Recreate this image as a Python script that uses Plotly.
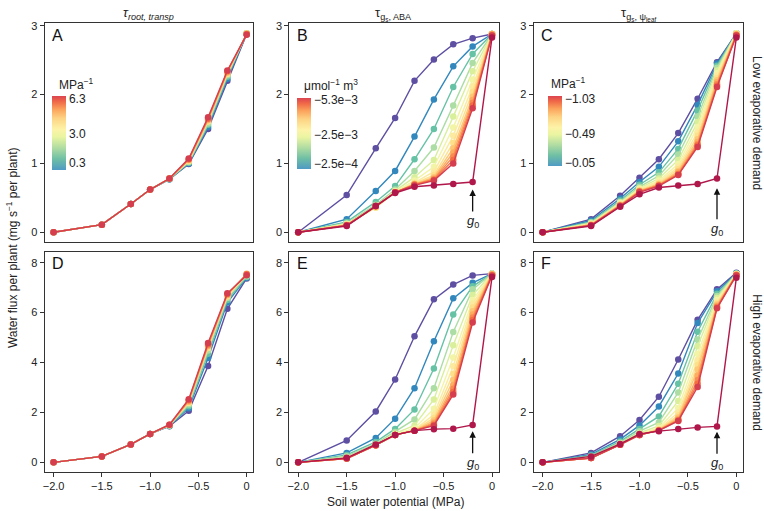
import plotly.graph_objects as go

# soil water potential (MPa) sampled for every curve
psi_soil = [-2.0, -1.5, -1.2, -1.0, -0.8, -0.6, -0.4, -0.2, 0.0]

# low evaporative demand
flux_A = [
    [0.00, 0.11, 0.41, 0.62, 0.77, 0.99, 1.50, 2.20, 2.88],
    [0.00, 0.11, 0.41, 0.62, 0.77, 1.00, 1.53, 2.23, 2.88],
    [0.00, 0.11, 0.41, 0.62, 0.77, 1.01, 1.56, 2.26, 2.89],
    [0.00, 0.11, 0.41, 0.62, 0.78, 1.02, 1.58, 2.28, 2.89],
    [0.00, 0.11, 0.41, 0.62, 0.78, 1.03, 1.61, 2.30, 2.89],
    [0.00, 0.11, 0.41, 0.62, 0.78, 1.05, 1.63, 2.32, 2.88],
    [0.00, 0.11, 0.41, 0.62, 0.78, 1.06, 1.65, 2.34, 2.88],
    [0.00, 0.11, 0.41, 0.62, 0.78, 1.07, 1.67, 2.35, 2.87],
]
flux_B = [
    [0.00, 0.54, 1.22, 1.66, 2.20, 2.51, 2.73, 2.82, 2.88],
    [0.00, 0.19, 0.60, 0.89, 1.39, 1.93, 2.41, 2.70, 2.88],
    [0.00, 0.15, 0.44, 0.67, 1.06, 1.50, 2.11, 2.59, 2.88],
    [0.00, 0.13, 0.40, 0.62, 0.89, 1.23, 1.84, 2.46, 2.88],
    [0.00, 0.12, 0.37, 0.60, 0.80, 1.05, 1.68, 2.34, 2.88],
    [0.00, 0.12, 0.36, 0.59, 0.75, 0.95, 1.52, 2.22, 2.88],
    [0.00, 0.11, 0.36, 0.58, 0.72, 0.88, 1.40, 2.12, 2.88],
    [0.00, 0.11, 0.36, 0.58, 0.71, 0.83, 1.30, 2.04, 2.88],
    [0.00, 0.11, 0.37, 0.58, 0.70, 0.80, 1.22, 1.97, 2.88],
    [0.00, 0.10, 0.37, 0.58, 0.70, 0.78, 1.16, 1.92, 2.88],
    [0.00, 0.10, 0.38, 0.58, 0.69, 0.77, 1.10, 1.88, 2.87],
    [0.00, 0.10, 0.38, 0.58, 0.69, 0.76, 1.05, 1.84, 2.86],
    [0.00, 0.10, 0.38, 0.58, 0.68, 0.75, 1.00, 1.80, 2.86],
    [0.00, 0.09, 0.38, 0.57, 0.66, 0.68, 0.70, 0.73, 2.83],
]
flux_C = [
    [0.00, 0.19, 0.53, 0.79, 1.06, 1.44, 1.94, 2.47, 2.89],
    [0.00, 0.17, 0.49, 0.73, 0.95, 1.32, 1.85, 2.45, 2.89],
    [0.00, 0.15, 0.46, 0.69, 0.87, 1.21, 1.77, 2.42, 2.89],
    [0.00, 0.14, 0.44, 0.66, 0.82, 1.13, 1.68, 2.39, 2.89],
    [0.00, 0.13, 0.43, 0.64, 0.78, 1.05, 1.60, 2.35, 2.89],
    [0.00, 0.12, 0.42, 0.63, 0.75, 0.99, 1.53, 2.31, 2.89],
    [0.00, 0.12, 0.41, 0.62, 0.73, 0.95, 1.46, 2.28, 2.88],
    [0.00, 0.11, 0.40, 0.61, 0.71, 0.92, 1.40, 2.24, 2.88],
    [0.00, 0.11, 0.40, 0.60, 0.70, 0.89, 1.35, 2.21, 2.88],
    [0.00, 0.11, 0.39, 0.60, 0.69, 0.87, 1.31, 2.18, 2.87],
    [0.00, 0.10, 0.39, 0.59, 0.68, 0.85, 1.28, 2.15, 2.87],
    [0.00, 0.10, 0.38, 0.59, 0.68, 0.84, 1.26, 2.13, 2.86],
    [0.00, 0.10, 0.38, 0.58, 0.67, 0.83, 1.24, 2.11, 2.86],
    [0.00, 0.09, 0.37, 0.55, 0.65, 0.68, 0.70, 0.78, 2.83],
]

# high evaporative demand
flux_D = [
    [0.00, 0.24, 0.72, 1.14, 1.45, 2.07, 3.86, 6.15, 7.37],
    [0.00, 0.24, 0.72, 1.14, 1.46, 2.17, 4.18, 6.40, 7.40],
    [0.00, 0.24, 0.72, 1.14, 1.47, 2.25, 4.35, 6.50, 7.43],
    [0.00, 0.24, 0.72, 1.14, 1.48, 2.32, 4.48, 6.58, 7.46],
    [0.00, 0.24, 0.72, 1.14, 1.49, 2.38, 4.58, 6.64, 7.52],
    [0.00, 0.24, 0.72, 1.14, 1.50, 2.44, 4.66, 6.70, 7.56],
    [0.00, 0.24, 0.72, 1.14, 1.51, 2.49, 4.72, 6.74, 7.54],
    [0.00, 0.24, 0.72, 1.14, 1.51, 2.53, 4.78, 6.77, 7.50],
]
flux_E = [
    [0.00, 0.88, 2.04, 3.32, 5.05, 6.53, 7.12, 7.49, 7.56],
    [0.00, 0.38, 0.98, 1.75, 2.97, 4.85, 6.57, 7.19, 7.56],
    [0.00, 0.30, 0.82, 1.34, 2.12, 3.76, 5.92, 7.05, 7.56],
    [0.00, 0.25, 0.75, 1.22, 1.72, 2.97, 5.22, 6.93, 7.56],
    [0.00, 0.20, 0.72, 1.16, 1.48, 2.52, 4.69, 6.70, 7.56],
    [0.00, 0.18, 0.70, 1.12, 1.36, 2.15, 4.20, 6.50, 7.56],
    [0.00, 0.16, 0.69, 1.10, 1.30, 1.92, 3.85, 6.35, 7.55],
    [0.00, 0.16, 0.69, 1.10, 1.28, 1.78, 3.55, 6.20, 7.55],
    [0.00, 0.15, 0.69, 1.10, 1.27, 1.68, 3.30, 6.05, 7.54],
    [0.00, 0.15, 0.69, 1.10, 1.27, 1.60, 3.10, 5.92, 7.53],
    [0.00, 0.15, 0.69, 1.10, 1.27, 1.55, 2.95, 5.80, 7.52],
    [0.00, 0.15, 0.69, 1.10, 1.27, 1.50, 2.82, 5.70, 7.50],
    [0.00, 0.15, 0.69, 1.10, 1.27, 1.47, 2.72, 5.60, 7.48],
    [0.00, 0.18, 0.72, 1.10, 1.27, 1.33, 1.35, 1.50, 7.43],
]
flux_F = [
    [0.00, 0.38, 1.05, 1.70, 2.63, 4.12, 5.71, 6.93, 7.60],
    [0.00, 0.32, 0.92, 1.48, 2.24, 3.56, 5.58, 6.85, 7.58],
    [0.00, 0.28, 0.84, 1.34, 1.84, 3.15, 5.23, 6.75, 7.57],
    [0.00, 0.25, 0.79, 1.25, 1.60, 2.80, 4.92, 6.66, 7.56],
    [0.00, 0.22, 0.76, 1.18, 1.46, 2.46, 4.65, 6.58, 7.55],
    [0.00, 0.20, 0.74, 1.14, 1.38, 2.18, 4.35, 6.50, 7.55],
    [0.00, 0.19, 0.73, 1.12, 1.34, 2.00, 4.10, 6.43, 7.54],
    [0.00, 0.18, 0.72, 1.11, 1.32, 1.88, 3.90, 6.37, 7.54],
    [0.00, 0.18, 0.72, 1.10, 1.30, 1.80, 3.72, 6.32, 7.53],
    [0.00, 0.17, 0.72, 1.10, 1.29, 1.74, 3.48, 6.27, 7.52],
    [0.00, 0.17, 0.71, 1.10, 1.28, 1.70, 3.30, 6.23, 7.51],
    [0.00, 0.17, 0.71, 1.10, 1.28, 1.68, 3.15, 6.20, 7.50],
    [0.00, 0.17, 0.71, 1.10, 1.27, 1.66, 3.02, 6.17, 7.49],
    [0.00, 0.24, 0.74, 1.14, 1.25, 1.34, 1.40, 1.44, 7.40],
]

# g0 point (psi, flux at arrow tip)
g0_psi = -0.2
g0_tip = {"B": 0.62, "C": 0.64, "E": 1.25, "F": 1.23}

col_titles = ["<i>τ<sub>root, transp</sub></i>",
              "τ<sub>g<sub>s</sub>, ABA</sub>",
              "τ<sub>g<sub>s</sub>, ψ<sub>leaf</sub></sub>"]
row_titles = ["Low evaporative demand", "High evaporative demand"]

x_ticks = [-2.0, -1.5, -1.0, -0.5, 0.0]
x_ticktext = ["−2.0", "−1.5", "−1.0", "−0.5", "0"]
y_ticks_low = [0, 1, 2, 3]
y_ticks_high = [0, 2, 4, 6, 8]

# colourbar labels
cb_A_vals = [0.3, 3.0, 6.3]
cb_A_text = ["0.3", "3.0", "6.3"]
cb_B_vals = [2.5e-4, 2.5e-3, 5.3e-3]
cb_B_text = ["−2.5e−4", "−2.5e−3", "−5.3e−3"]
cb_C_vals = [0.05, 0.49, 1.03]
cb_C_text = ["−0.05", "−0.49", "−1.03"]

# ---- styling ----
W, H = 764, 511
FONT = "Liberation Sans, Arial, Helvetica, sans-serif"
colors8 = ['#5e4fa2', '#3288bd', '#66c2a5', '#abdda4', '#fee08b', '#fdae61', '#f46d43', '#d53e4f']
colors14 = ['#5e4fa2', '#3288bd', '#66c2a5', '#abdda4', '#d9ef9b', '#f2f4a6', '#fbeaa0',
            '#fee08b', '#fdc776', '#fdae61', '#f88d52', '#f46d43', '#d53e4f', '#b0174b']
bar_scale = [[0, '#4f9ac4'], [0.15, '#6fbfa5'], [0.3, '#b0dca2'], [0.45, '#eaf5a2'],
             [0.55, '#fdf3a8'], [0.7, '#fdd384'], [0.82, '#fba35c'], [0.92, '#f06a48'],
             [1, '#dc4450']]

def px_x(p):
    return p / W

def px_y(p):
    return 1 - p / H

x_dom = [(42.7, 252), (288, 498), (533, 743)]
y_dom = [(19.5, 240), (250, 471.7)]
x_range = [-2.093, 0.069]
y_ranges = [[-0.144, 3.035], [-0.386, 8.425]]

panels = [("A", flux_A, colors8), ("B", flux_B, colors14), ("C", flux_C, colors14),
          ("D", flux_D, colors8), ("E", flux_E, colors14), ("F", flux_F, colors14)]

fig = go.Figure()
annotations = []
layout = {}

for i, (letter, series, cols) in enumerate(panels):
    r, c = divmod(i, 3)
    n = "" if i == 0 else str(i + 1)
    for ys, col in zip(series, cols):
        fig.add_trace(go.Scatter(
            x=psi_soil, y=ys, mode="lines+markers", xaxis="x" + n, yaxis="y" + n,
            line=dict(color=col, width=1.4), marker=dict(color=col, size=6.5),
            showlegend=False, hoverinfo="skip"))
    layout["xaxis" + n] = dict(
        domain=[px_x(x_dom[c][0]), px_x(x_dom[c][1])], range=x_range, anchor="y" + n,
        showline=True, linecolor="#333", linewidth=1, mirror=True, showgrid=False,
        zeroline=False, tickvals=x_ticks, ticktext=x_ticktext,
        ticks="outside" if r == 1 else "", ticklen=4, tickcolor="#333",
        showticklabels=(r == 1), tickfont=dict(size=11, color="#222", family=FONT))
    layout["yaxis" + n] = dict(
        domain=[px_y(y_dom[r][1]), px_y(y_dom[r][0])], range=y_ranges[r], anchor="x" + n,
        showline=True, linecolor="#333", linewidth=1, mirror=True, showgrid=False,
        zeroline=False, tickvals=y_ticks_low if r == 0 else y_ticks_high,
        ticks="outside", ticklen=4, tickcolor="#333",
        tickfont=dict(size=11, color="#222", family=FONT))
    annotations.append(dict(
        text=letter, xref="paper", yref="paper", x=px_x(x_dom[c][0] + 5.5),
        y=px_y(y_dom[r][0] + 12), xanchor="left", yanchor="middle", showarrow=False,
        font=dict(size=16, color="#111", family=FONT)))
    if letter in g0_tip:
        annotations.append(dict(
            text="<i>g</i><sub>0</sub>", x=g0_psi, y=g0_tip[letter],
            xref="x" + n, yref="y" + n, showarrow=True, arrowhead=2, arrowsize=1,
            arrowwidth=1.3, arrowcolor="#111", ax=0, ay=41 if letter == "C" else 32,
            font=dict(size=13, color="#222", family=FONT)))

# colourbars via invisible marker traces
cb_specs = [("coloraxis", "", cb_A_vals, cb_A_text, -0.36, 6.58, 50, 130, 74),
            ("coloraxis2", "2", cb_B_vals, cb_B_text, -2.3e-4, 5.4e-3, 296, 131, 71),
            ("coloraxis3", "3", cb_C_vals, cb_C_text, 0.009, 1.065, 547, 128, 70)]
for name, n, vals, text, cmin, cmax, x0, yc, ln in cb_specs:
    fig.add_trace(go.Scatter(
        x=[psi_soil[0]], y=[0], mode="markers", xaxis="x" + n, yaxis="y" + n,
        marker=dict(color=[vals[0]], coloraxis=name, opacity=0),
        showlegend=False, hoverinfo="skip"))
    layout[name] = dict(
        cmin=cmin, cmax=cmax, colorscale=bar_scale,
        colorbar=dict(x=px_x(x0), xanchor="left", y=px_y(yc), yanchor="middle",
                      len=ln, lenmode="pixels", thickness=14, thicknessmode="pixels",
                      xpad=0, ypad=0, outlinewidth=0, ticks="", tickvals=vals,
                      ticktext=text, tickfont=dict(size=12, color="#222", family=FONT)))

cb_titles = [("MPa<sup>−1</sup>", 55, 81), ("μmol<sup>−1</sup> m<sup>3</sup>", 301, 82),
             ("MPa<sup>−1</sup>", 548, 80)]
for t, x0, y0 in cb_titles:
    annotations.append(dict(text=t, xref="paper", yref="paper", x=px_x(x0), y=px_y(y0),
                            xanchor="left", yanchor="middle", showarrow=False,
                            font=dict(size=12, color="#222", family=FONT)))

for c, t in enumerate(col_titles):
    annotations.append(dict(text=t, xref="paper", yref="paper",
                            x=px_x((x_dom[c][0] + x_dom[c][1]) / 2), y=px_y(10),
                            xanchor="center", yanchor="middle", showarrow=False,
                            font=dict(size=13, color="#222", family=FONT)))

for r, (t, yc) in enumerate(zip(row_titles, [120, 361])):
    annotations.append(dict(text=t, xref="paper", yref="paper", x=px_x(757), y=px_y(yc),
                            xanchor="center", yanchor="middle", textangle=90,
                            showarrow=False, font=dict(size=12, color="#222", family=FONT)))

annotations.append(dict(text="Water flux per plant (mg s<sup>−1</sup> per plant)",
                        xref="paper", yref="paper", x=px_x(10), y=px_y(245),
                        xanchor="center", yanchor="middle", textangle=-90, showarrow=False,
                        font=dict(size=12, color="#222", family=FONT)))
annotations.append(dict(text="Soil water potential (MPa)", xref="paper", yref="paper",
                        x=px_x(395), y=px_y(502), xanchor="center", yanchor="middle",
                        showarrow=False, font=dict(size=12, color="#222", family=FONT)))

fig.update_layout(width=W, height=H, margin=dict(l=0, r=0, t=0, b=0),
                  paper_bgcolor="white", plot_bgcolor="white",
                  annotations=annotations, **layout)
# the page body has a default 8px margin; drop it so the figure fills the window
fig.write_html("out.html", config={"displayModeBar": False},
               post_script="document.body.style.margin='0';")
